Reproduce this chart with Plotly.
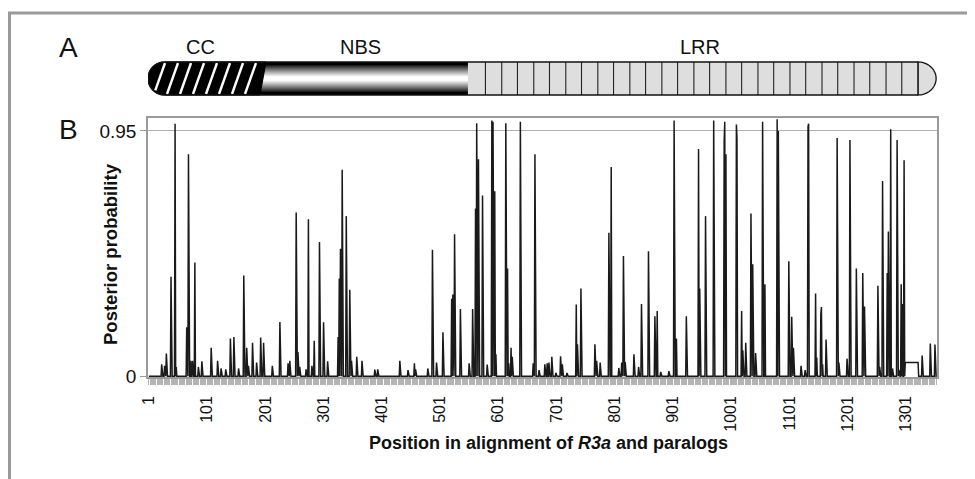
import numpy as np
import plotly.graph_objects as go

# ---------------- data ----------------
n_positions = 1354
spike_pos = [23, 28, 31, 39, 46, 48, 66, 69, 73, 76, 80, 86, 92, 108, 119, 125, 133, 141, 147, 155,
             164, 169, 172, 179, 186, 193, 198, 213, 226, 240, 243, 254, 257, 260, 271, 275, 281, 285,
             294, 301, 308, 326, 328, 330, 333, 340, 346, 349, 358, 367, 389, 394, 432, 446, 457, 459,
             480, 488, 495, 506, 521, 523, 526, 536, 551, 557, 562, 564, 567, 574, 582, 590, 592, 595,
             597, 614, 617, 619, 623, 625, 639, 661, 664, 671, 681, 685, 688, 693, 700, 708, 711, 719,
             735, 737, 743, 767, 770, 776, 791, 795, 808, 813, 816, 819, 834, 842, 847, 859, 870, 874,
             880, 894, 903, 907, 924, 945, 947, 957, 971, 989, 990, 992, 1010, 1011, 1019, 1021, 1026,
             1035, 1038, 1043, 1055, 1059, 1080, 1082, 1100, 1105, 1108, 1121, 1128, 1133, 1134, 1146,
             1148, 1155, 1156, 1158, 1164, 1183, 1184, 1186, 1200, 1205, 1216, 1227, 1230, 1253, 1256,
             1261, 1269, 1271, 1275, 1278, 1286, 1289, 1293, 1295, 1298, 1329, 1343, 1351]
spike_val = [0.046, 0.04, 0.088, 0.385, 0.978, 0.036, 0.19, 0.86, 0.06, 0.06, 0.44, 0.036, 0.058, 0.11,
             0.06, 0.03, 0.027, 0.146, 0.152, 0.03, 0.39, 0.11, 0.04, 0.13, 0.053, 0.15, 0.13, 0.04,
             0.21, 0.05, 0.06, 0.634, 0.094, 0.036, 0.027, 0.608, 0.04, 0.137, 0.52, 0.209, 0.058,
             0.152, 0.378, 0.494, 0.80, 0.62, 0.335, 0.06, 0.075, 0.06, 0.026, 0.027, 0.06, 0.024,
             0.05, 0.027, 0.03, 0.49, 0.053, 0.17, 0.30, 0.316, 0.55, 0.26, 0.05, 0.26, 0.65, 0.98,
             0.84, 0.70, 0.045, 0.99, 0.985, 0.716, 0.085, 0.98, 0.417, 0.05, 0.11, 0.075, 0.985, 0.05,
             0.86, 0.024, 0.046, 0.05, 0.053, 0.075, 0.013, 0.077, 0.046, 0.013, 0.278, 0.124, 0.34,
             0.124, 0.06, 0.053, 0.556, 0.81, 0.032, 0.053, 0.466, 0.055, 0.085, 0.036, 0.28, 0.484,
             0.232, 0.253, 0.017, 0.02, 0.99, 0.146, 0.232, 0.88, 0.34, 0.62, 0.99, 0.91, 0.985, 0.86,
             0.975, 0.92, 0.253, 0.10, 0.13, 0.63, 0.434, 0.09, 0.985, 0.356, 0.995, 0.95, 0.445, 0.23,
             0.11, 0.04, 0.024, 0.966, 0.978, 0.32, 0.072, 0.24, 0.268, 0.046, 0.142, 0.923, 0.053,
             0.053, 0.068, 0.915, 0.417, 0.40, 0.27, 0.35, 0.036, 0.756, 0.40, 0.56, 0.956, 0.03, 0.915,
             0.025, 0.356, 0.28, 0.836, 0.08, 0.127, 0.123]
plateau_start, plateau_end, plateau_val = 1300, 1322, 0.053

x_tick_vals = [1, 101, 201, 301, 401, 501, 601, 701, 801, 901, 1001, 1101, 1201, 1301]
y_tick_vals = [0, 0.95]
y_tick_text = ["0", "0.95"]

domain_names = ["CC", "NBS", "LRR"]
domain_start = [-0.5, 197, 549]
domain_end = [197, 549, 1353]
domain_label_x = [89, 364, 947]
lrr_repeat_bounds = [579, 607, 634, 662, 689, 717, 744, 772, 799, 827, 854, 882, 909, 937, 964, 992,
                     1019, 1047, 1074, 1102, 1129, 1157, 1184, 1212, 1239, 1267, 1294, 1322]

# ---------------- series ----------------
positions = np.arange(1, n_positions + 1)
prob = np.zeros(n_positions)
for p, v in zip(spike_pos, spike_val):
    prob[p - 1] = v
for p in range(plateau_start, plateau_end + 1):
    prob[p - 1] = plateau_val

# ---------------- layout geometry ----------------
# the page body has an 8px margin, so the figure starts at (8, 8) in the window
OFF = 8
W, H = 975 - OFF, 479 - OFF
PL, PR, PT, PB = 148, 937, 118, 377      # plot area edges in window pixels
ML, MT = PL - OFF, PT - OFF
MR, MB = W - (PR - OFF), H - (PB - OFF)
PW, PH = PR - PL, PB - PT
x_range = [-0.5, n_positions + 0.5]
upp = (x_range[1] - x_range[0]) / PW  # x units per pixel


def pyp(py):  # window pixel y -> paper y
    return (PB - py) / PH


def pxp(px):  # window pixel x -> paper x
    return (px - PL) / PW


FONT = "Liberation Sans, Arial, sans-serif"
fig = go.Figure()
fig.add_trace(go.Scatter(x=positions, y=prob, mode="lines",
                         line=dict(color="#1a1a1a", width=1.5), hoverinfo="skip",
                         showlegend=False))

shapes = []
annotations = []

# outer frame
shapes.append(dict(type="rect", xref="paper", yref="paper", x0=pxp(9.5), x1=pxp(990),
                   y0=pyp(495), y1=pyp(13), line=dict(color="#9a9a9a", width=3),
                   fillcolor="rgba(0,0,0,0)", layer="below"))

# ---------------- domain diagram (panel A) ----------------
bar_top_px, bar_bot_px = 62, 95
top, bot = pyp(bar_top_px), pyp(bar_bot_px)
mid_px = (bar_top_px + bar_bot_px) / 2
r_px = (bar_bot_px - bar_top_px) / 2
rx = r_px * upp
cx = domain_start[0] + rx
slant = 3 * upp

# NBS gradient (vertical black-white-black)
nstrip = 33
for i in range(nstrip):
    t = (i + 0.5) / nstrip
    g = max(0.0, min(1.0, (1 - abs(2 * t - 1)) * 1.35 - 0.2))
    lev = int(255 * g ** 0.9)
    y0 = bot + (top - bot) * i / nstrip
    y1 = bot + (top - bot) * (i + 1) / nstrip
    shapes.append(dict(type="rect", xref="x", yref="paper", x0=domain_start[1] - slant, x1=domain_start[2],
                       y0=y0, y1=y1, line=dict(width=0), fillcolor=f"rgb({lev},{lev},{lev})"))

# CC black capsule part
angs = np.linspace(np.pi / 2, 3 * np.pi / 2, 40)
arc_pts = [(cx + rx * np.cos(a), pyp(mid_px - r_px * np.sin(a))) for a in angs]
path = "M " + " L ".join(f"{x:.3f},{y:.5f}" for x, y in arc_pts)
path += f" L {domain_end[0] - slant:.3f},{bot:.5f} L {domain_end[0] + slant:.3f},{top:.5f} Z"
shapes.append(dict(type="path", xref="x", yref="paper", path=path, fillcolor="black",
                   line=dict(color="black", width=1)))

# white hatch stripes, clipped to the rounded end
cx_px = PL + (cx - x_range[0]) / upp
stripe_offsets_px = [6, 19, 32, 45, 58, 71, 84, 97]
for off in stripe_offsets_px:
    xb = PL + off
    pts = []
    for s in np.linspace(0, 1, 60):
        xpx = xb + 11 * s
        ypx = bar_bot_px - 1 - (bar_bot_px - bar_top_px - 2) * s
        if xpx < cx_px and ((xpx - cx_px) ** 2 + (ypx - mid_px) ** 2) > (r_px - 1.5) ** 2:
            continue
        pts.append((xpx, ypx))
    if len(pts) > 1:
        (xa, ya), (xb2, yb2) = pts[0], pts[-1]
        shapes.append(dict(type="line", xref="x", yref="paper",
                           x0=x_range[0] + (xa - PL) * upp, y0=pyp(ya),
                           x1=x_range[0] + (xb2 - PL) * upp, y1=pyp(yb2),
                           line=dict(color="white", width=2.4)))

# LRR body
cap_start = lrr_repeat_bounds[-1]
shapes.append(dict(type="rect", xref="x", yref="paper", x0=domain_start[2], x1=cap_start,
                   y0=bot, y1=top, fillcolor="#dedede", line=dict(width=0)))
rx2 = (domain_end[2] - cap_start)
angs2 = np.linspace(np.pi / 2, -np.pi / 2, 40)
cap_pts = [(cap_start + rx2 * np.cos(a), pyp(mid_px - r_px * np.sin(a))) for a in angs2]
cap_path = "M " + " L ".join(f"{x:.3f},{y:.5f}" for x, y in cap_pts) + " Z"
shapes.append(dict(type="path", xref="x", yref="paper", path=cap_path, fillcolor="#dedede",
                   line=dict(color="#111", width=1.3)))
for b in lrr_repeat_bounds:
    shapes.append(dict(type="line", xref="x", yref="paper", x0=b, x1=b, y0=bot, y1=top,
                       line=dict(color="#222", width=1.1)))
# outline top/bottom
for yy in (top, bot):
    shapes.append(dict(type="line", xref="x", yref="paper", x0=cx, x1=cap_start, y0=yy, y1=yy,
                       line=dict(color="#111", width=1.3)))
outline = "M " + " L ".join(f"{x:.3f},{y:.5f}" for x, y in arc_pts)
shapes.append(dict(type="path", xref="x", yref="paper", path=outline,
                   line=dict(color="#111", width=1.3)))

for name, lx in zip(domain_names, domain_label_x):
    annotations.append(dict(x=lx, y=pyp(47), xref="x", yref="paper", text=name, showarrow=False,
                            font=dict(family=FONT, size=20, color="#111"), xanchor="center",
                            yanchor="middle"))

annotations.append(dict(x=pxp(68), y=pyp(47), xref="paper", yref="paper", text="A", showarrow=False,
                        font=dict(family=FONT, size=28, color="#111"), xanchor="center", yanchor="middle"))
annotations.append(dict(x=pxp(68), y=pyp(129), xref="paper", yref="paper", text="B", showarrow=False,
                        font=dict(family=FONT, size=28, color="#111"), xanchor="center", yanchor="middle"))

# axis titles
annotations.append(dict(x=pxp(110), y=pyp(254), xref="paper", yref="paper",
                        text="<b>Posterior probability</b>", textangle=-90, showarrow=False,
                        font=dict(family=FONT, size=18.5, color="#111"), xanchor="center", yanchor="middle"))
annotations.append(dict(x=pxp(548), y=pyp(443), xref="paper", yref="paper",
                        text="<b>Position in alignment of <i>R3a</i> and paralogs</b>", showarrow=False,
                        font=dict(family=FONT, size=18, color="#111"), xanchor="center", yanchor="middle"))

fig.update_layout(
    width=W, height=H, margin=dict(l=ML, r=MR, t=MT, b=MB, autoexpand=False),
    paper_bgcolor="white", plot_bgcolor="white",
    shapes=shapes, annotations=annotations, showlegend=False,
    xaxis=dict(range=x_range, tickmode="array", tickvals=x_tick_vals,
               ticktext=[str(v) for v in x_tick_vals], tickangle=-90,
               ticks="outside", ticklen=6, tickcolor="#b0b0b0", tickwidth=1,
               minor=dict(tickmode="linear", tick0=1, dtick=2, ticks="outside", ticklen=6,
                          tickcolor="#b4b4b4", tickwidth=1, showgrid=False),
               showgrid=False, zeroline=False, showline=True, mirror=True,
               linecolor="#9a9a9a", linewidth=1.5,
               tickfont=dict(family=FONT, size=16, color="#111"), ticklabelstandoff=5),
    yaxis=dict(range=[-0.003, 1.0], tickmode="array", tickvals=y_tick_vals, ticktext=y_tick_text,
               ticks="outside", ticklen=6, tickcolor="#9a9a9a", showgrid=True,
               gridcolor="#b0b0b0", gridwidth=1, zeroline=False, showline=True, mirror=True,
               linecolor="#9a9a9a", linewidth=1.5,
               tickfont=dict(family=FONT, size=19, color="#111")),
)

fig.write_html("out.html")
